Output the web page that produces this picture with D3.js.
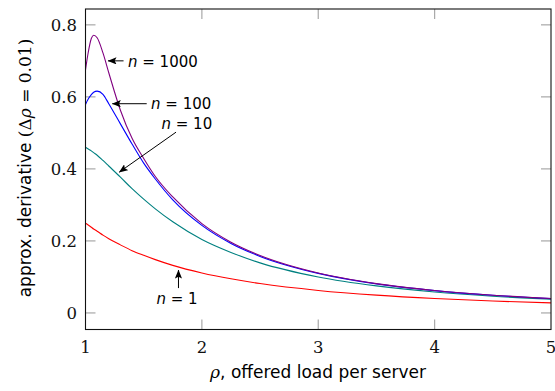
<!DOCTYPE html>
<html>
<head>
<meta charset="utf-8">
<script src="https://cdn.jsdelivr.net/npm/d3@7"></script>
<style>
  body { margin: 0; background: #fff; }
  svg { display: block; }
</style>
</head>
<body>
<svg id="chart" width="555" height="391"></svg>
<script>
// offered load per server (shared grid for every series)
const rho = [1, 1.02, 1.05, 1.07, 1.1, 1.15, 1.2, 1.3, 1.4, 1.5, 1.6, 1.75, 2, 2.25, 2.5, 3, 3.5, 4, 4.5, 5];

// approximate derivative of the blocking probability, one array per server count
const deriv1    = [0.249, 0.245, 0.238, 0.233, 0.227, 0.216, 0.206, 0.189, 0.173, 0.160, 0.148, 0.132, 0.111, 0.0947, 0.0816, 0.0625, 0.0494, 0.0400, 0.0331, 0.0278];
const deriv10   = [0.460, 0.456, 0.450, 0.445, 0.438, 0.4235, 0.408, 0.377, 0.345, 0.316, 0.289, 0.253, 0.204, 0.168, 0.139, 0.100, 0.0752, 0.0582, 0.0465, 0.0380];
const deriv100  = [0.579, 0.592, 0.606, 0.613, 0.616, 0.607, 0.581, 0.525, 0.469, 0.416, 0.372, 0.314, 0.243, 0.193, 0.157, 0.1098, 0.0806, 0.0620, 0.0489, 0.0398];
const deriv1000 = [0.675, 0.717, 0.762, 0.771, 0.764, 0.722, 0.667, 0.563, 0.485, 0.429, 0.379, 0.322, 0.248, 0.1965, 0.1595, 0.1108, 0.0814, 0.0624, 0.0493, 0.0399];

const seriesLabels = ["1", "10", "100", "1000"];
const seriesColors = ["#ff0000", "#008080", "#0000ff", "#800080"];

const xTicks = [1, 2, 3, 4, 5];
const yTicks = [0, 0.2, 0.4, 0.6, 0.8];
const yTickText = ["0", "0.2", "0.4", "0.6", "0.8"];

// annotation arrows in data units (same order as the series): text start, arrow tail, arrow tip
const noteText = [[1.610, 0.026], [1.653, 0.510], [1.563, 0.565], [1.365, 0.683]];
const noteTail = [[1.799, 0.069], [1.778, 0.502], [1.526, 0.581], [1.327, 0.700]];
const noteTip  = [[1.799, 0.119], [1.290, 0.391], [1.230, 0.581], [1.193, 0.700]];

const svg = d3.select("#chart");
const plot = { left: 85.5, right: 551, top: 9, bottom: 329.5 };

const x = d3.scaleLinear().domain([1, 5]).range([plot.left, plot.right]);
const y = d3.scaleLinear().domain([-0.046, 0.844]).range([plot.bottom, plot.top]);

const serif = "'DejaVu Serif', serif";
const sans = "'DejaVu Sans', sans-serif";

// clip curves to the plotting box
svg.append("clipPath").attr("id", "plotClip")
  .append("rect")
  .attr("x", plot.left).attr("y", plot.top)
  .attr("width", plot.right - plot.left).attr("height", plot.bottom - plot.top);

// tick marks, drawn inward on all four sides
const tickLen = 10;
const tickColor = "#a8a8a8";
const ticks = svg.append("g");
xTicks.slice(1, -1).forEach(v => {
  ticks.append("line").attr("x1", x(v)).attr("x2", x(v))
    .attr("y1", plot.bottom).attr("y2", plot.bottom - tickLen)
    .attr("stroke", tickColor).attr("stroke-width", 1.2);
  ticks.append("line").attr("x1", x(v)).attr("x2", x(v))
    .attr("y1", plot.top).attr("y2", plot.top + tickLen)
    .attr("stroke", tickColor).attr("stroke-width", 1.2);
});
yTicks.forEach(v => {
  ticks.append("line").attr("x1", plot.left).attr("x2", plot.left + tickLen)
    .attr("y1", y(v)).attr("y2", y(v))
    .attr("stroke", tickColor).attr("stroke-width", 1.2);
  ticks.append("line").attr("x1", plot.right).attr("x2", plot.right - tickLen)
    .attr("y1", y(v)).attr("y2", y(v))
    .attr("stroke", tickColor).attr("stroke-width", 1.2);
});

// tick labels
svg.append("g").selectAll("text").data(xTicks).join("text")
  .attr("x", d => x(d)).attr("y", 353)
  .attr("text-anchor", "middle")
  .attr("font-family", serif).attr("font-size", 16.5)
  .attr("fill", "#111")
  .text(d => d);

svg.append("g").selectAll("text").data(yTicks).join("text")
  .attr("x", 77).attr("y", d => y(d) + 6)
  .attr("text-anchor", "end")
  .attr("font-family", serif).attr("font-size", 16.5)
  .attr("fill", "#111")
  .text((d, i) => yTickText[i]);

// curves
const line = d3.line()
  .x(d => x(d[0]))
  .y(d => y(d[1]))
  .curve(d3.curveMonotoneX);

const allSeries = [deriv1, deriv10, deriv100, deriv1000];
svg.append("g").attr("clip-path", "url(#plotClip)")
  .selectAll("path").data(allSeries).join("path")
  .attr("d", vals => line(rho.map((r, i) => [r, vals[i]])))
  .attr("fill", "none")
  .attr("stroke", (d, i) => seriesColors[i])
  .attr("stroke-width", 1.1);

// frame
svg.append("rect")
  .attr("x", plot.left).attr("y", plot.top)
  .attr("width", plot.right - plot.left).attr("height", plot.bottom - plot.top)
  .attr("fill", "none").attr("stroke", "#111").attr("stroke-width", 1.1);

// arrowhead
svg.append("defs").append("marker")
  .attr("id", "head")
  .attr("markerUnits", "userSpaceOnUse")
  .attr("viewBox", "0 0 10 8")
  .attr("refX", 9.5).attr("refY", 4)
  .attr("markerWidth", 9).attr("markerHeight", 7.2)
  .attr("orient", "auto")
  .append("path")
  .attr("d", "M0,0 L10,4 L0,8 L2,4 Z")
  .attr("fill", "#000");

// annotations
const notes = svg.append("g");
seriesLabels.forEach((lab, i) => {
  notes.append("line")
    .attr("x1", x(noteTail[i][0])).attr("y1", y(noteTail[i][1]))
    .attr("x2", x(noteTip[i][0])).attr("y2", y(noteTip[i][1]))
    .attr("stroke", "#000").attr("stroke-width", 1)
    .attr("marker-end", "url(#head)");
  const t = notes.append("text")
    .attr("x", x(noteText[i][0])).attr("y", y(noteText[i][1]))
    .attr("font-family", sans).attr("font-size", 15).attr("fill", "#000");
  t.append("tspan").attr("font-style", "italic").text("n");
  t.append("tspan").text(" = " + lab);
});

// axis titles
const xt = svg.append("text")
  .attr("x", 318).attr("y", 378)
  .attr("text-anchor", "middle")
  .attr("font-size", 17).attr("fill", "#000");
xt.append("tspan").attr("font-family", serif).attr("font-style", "italic").text("ρ");
xt.append("tspan").attr("font-family", sans).text(", offered load per server");

const yt = svg.append("text")
  .attr("transform", "translate(31,168) rotate(-90)")
  .attr("text-anchor", "middle")
  .attr("font-size", 17).attr("fill", "#000");
yt.append("tspan").attr("font-family", sans).text("approx. derivative ");
yt.append("tspan").attr("font-family", serif).text("(Δ");
yt.append("tspan").attr("font-family", serif).attr("font-style", "italic").text("ρ");
yt.append("tspan").attr("font-family", serif).text(" = 0.01)");
</script>
</body>
</html>
